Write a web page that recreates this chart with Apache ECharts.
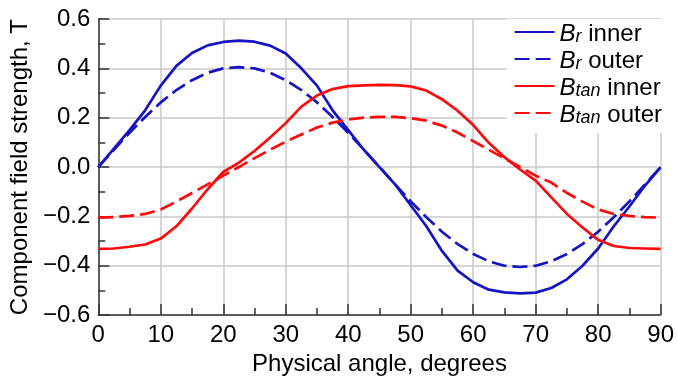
<!DOCTYPE html>
<html>
<head>
<meta charset="utf-8">
<script src="https://cdn.jsdelivr.net/npm/echarts@6/dist/echarts.min.js"></script>
<style>
  html, body { margin: 0; padding: 0; background: #fff; }
  #chart { width: 677px; height: 381px; }
</style>
</head>
<body>
<div id="chart"></div>
<script>
// physical angle, degrees
const angles = [0, 2.5, 5, 7.5, 10, 12.5, 15, 17.5, 20, 22.5, 25, 27.5, 30, 32.5, 35, 37.5, 40, 42.5, 45,
  47.5, 50, 52.5, 55, 57.5, 60, 62.5, 65, 67.5, 70, 72.5, 75, 77.5, 80, 82.5, 85, 87.5, 90];

const brInner = [0, 0.075, 0.15, 0.23, 0.33, 0.41, 0.462, 0.493, 0.507, 0.512, 0.508, 0.492, 0.46, 0.40, 0.33, 0.23, 0.15, 0.07, 0,
  -0.07, -0.155, -0.24, -0.34, -0.42, -0.467, -0.497, -0.508, -0.512, -0.509, -0.49, -0.455, -0.40, -0.33, -0.24, -0.16, -0.075, 0];

const brOuter = [0, 0.07, 0.139, 0.203, 0.262, 0.312, 0.352, 0.382, 0.400, 0.405, 0.400, 0.382, 0.352, 0.312, 0.262, 0.203, 0.139, 0.07, 0,
  -0.07, -0.139, -0.203, -0.262, -0.312, -0.352, -0.382, -0.400, -0.405, -0.400, -0.382, -0.352, -0.312, -0.262, -0.203, -0.139, -0.07, 0];

const btanInner = [-0.332, -0.33, -0.323, -0.314, -0.29, -0.24, -0.168, -0.09, -0.02, 0.018, 0.065, 0.12, 0.178, 0.245, 0.29, 0.316, 0.328, 0.331, 0.333,
  0.332, 0.327, 0.31, 0.275, 0.228, 0.17, 0.098, 0.04, -0.01, -0.055, -0.123, -0.19, -0.245, -0.295, -0.32, -0.328, -0.33, -0.332];

const btanOuter = [-0.205, -0.203, -0.198, -0.19, -0.172, -0.14, -0.105, -0.07, -0.035, 0, 0.036, 0.07, 0.103, 0.132, 0.16, 0.18, 0.193, 0.2, 0.203,
  0.203, 0.198, 0.188, 0.168, 0.14, 0.105, 0.07, 0.035, 0, -0.035, -0.063, -0.105, -0.14, -0.172, -0.19, -0.198, -0.203, -0.205];

const xTicks = { min: 0, max: 90, step: 10 };
const yTicks = { min: -0.6, max: 0.6, step: 0.2 };

const BLUE = '#1414c4';
const RED  = '#ff0a0a';
const FONT = '"Liberation Sans", Arial, sans-serif';
const FS   = 24;

const pairs = (vals) => angles.map((a, i) => [a, vals[i]]);

const legendLabels = {
  'Br inner':   '{b|B}{s|r}{t| inner}',
  'Br outer':   '{b|B}{s|r}{t| outer}',
  'Btan inner': '{b|B}{s|tan}{t| inner}',
  'Btan outer': '{b|B}{s|tan}{t| outer}',
};

const axisCommon = {
  axisLine: { show: true, onZero: false, lineStyle: { color: '#333', width: 1.5 } },
  axisTick: { show: true, inside: true, length: 11, lineStyle: { color: '#333', width: 1.5 } },
  minorTick: { show: true, splitNumber: 2, length: 7, lineStyle: { color: '#333', width: 1.5 } },
  splitLine: { show: true, lineStyle: { color: '#c8c8c8', width: 1.5 } },
  nameLocation: 'middle',
  nameTextStyle: { color: '#000', fontSize: FS, fontFamily: FONT },
};

const line = (name, vals, color, dashed) => ({
  name, type: 'line', data: pairs(vals),
  symbol: 'none', showSymbol: false, smooth: false, animation: false,
  lineStyle: { color, width: 2.7, type: dashed ? [15, 6] : 'solid' },
  itemStyle: { color },
});

const chart = echarts.init(document.getElementById('chart'), null, { renderer: 'canvas' });
chart.setOption({
  backgroundColor: '#fff',
  animation: false,
  grid: { left: 97, right: 13, top: 19, bottom: 57, containLabel: false },
  xAxis: {
    ...axisCommon,
    type: 'value', min: xTicks.min, max: xTicks.max, interval: xTicks.step,
    name: 'Physical angle, degrees', nameGap: 33,
    axisLabel: { color: '#000', fontSize: FS, fontFamily: FONT, margin: 8 },
  },
  yAxis: {
    ...axisCommon,
    type: 'value', min: yTicks.min, max: yTicks.max, interval: yTicks.step,
    name: 'Component field strength, T', nameGap: 57,
    axisLabel: {
      color: '#000', fontSize: FS, fontFamily: FONT, margin: 8,
      formatter: (v) => Math.abs(v) < 1e-9 ? '0.0' : v.toFixed(1).replace('-', '\u2212'),
    },
  },
  legend: {
    orient: 'vertical', right: 12, top: 19,
    backgroundColor: '#fff', padding: [3, 3, 6, 7],
    itemWidth: 40, itemHeight: 14, itemGap: 3,
    itemStyle: { opacity: 0 },
    data: Object.keys(legendLabels),
    formatter: (name) => legendLabels[name],
    textStyle: {
      color: '#000', fontSize: FS, fontFamily: FONT,
      rich: {
        b: { fontSize: FS, fontStyle: 'italic', fontFamily: FONT, color: '#000', verticalAlign: 'bottom' },
        s: { fontSize: 18, fontStyle: 'italic', fontFamily: FONT, color: '#000', verticalAlign: 'bottom', padding: [10, 0, 0, 0] },
        t: { fontSize: FS, fontFamily: FONT, color: '#000', verticalAlign: 'bottom' },
      },
    },
  },
  series: [
    line('Br inner', brInner, BLUE, false),
    line('Br outer', brOuter, BLUE, true),
    line('Btan inner', btanInner, RED, false),
    line('Btan outer', btanOuter, RED, true),
  ],
});
</script>
</body>
</html>
